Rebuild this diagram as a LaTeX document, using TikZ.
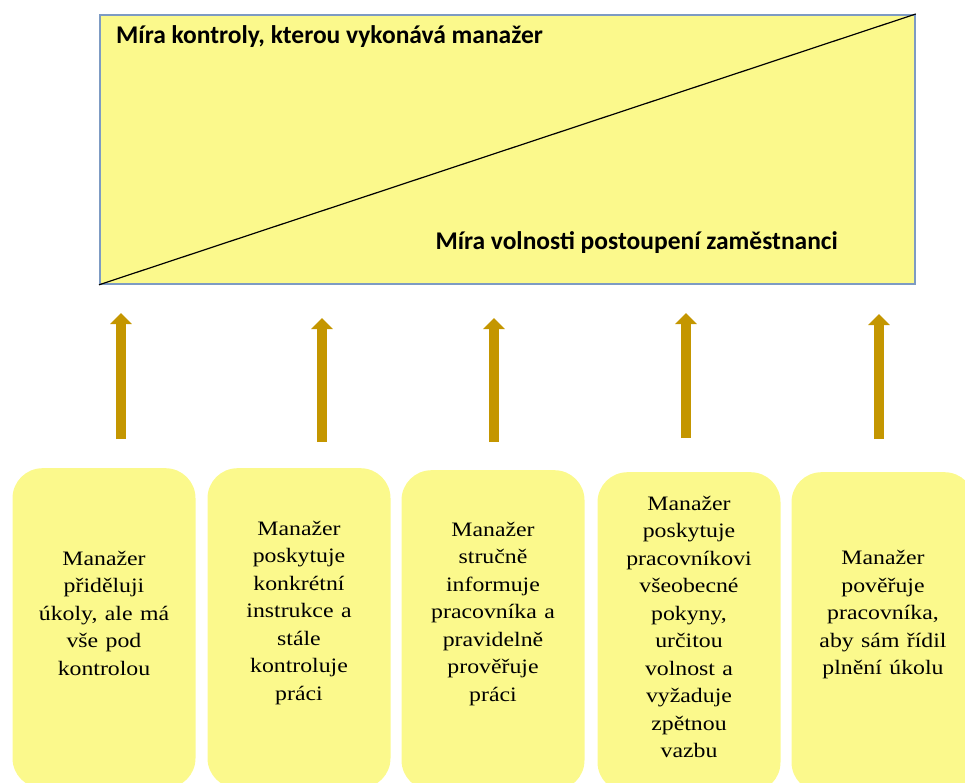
\documentclass[tikz,border=0pt]{standalone}
\usepackage{fontspec}
\setmainfont[FakeStretch=1.16,WordSpace=1.25]{Liberation Serif}
\newfontfamily\headfont{Carlito}
\usetikzlibrary{arrows.meta,positioning}

\definecolor{boxyellow}{RGB}{251,249,140}
\definecolor{frameblue}{RGB}{125,155,195}
\definecolor{arrowgold}{RGB}{196,150,0}

\begin{document}
\begin{tikzpicture}[x=1pt,y=-1pt,
  every node/.style={inner sep=0pt},
  frame/.style={draw=frameblue, line width=1.8pt, fill=boxyellow},
  stepbox/.style={fill=boxyellow, rounded corners=30pt, minimum width=183pt, minimum height=320pt, anchor=north},
  steptext/.style={font=\fontsize{20.5}{27.5}\selectfont, align=center},
  head/.style={font=\headfont\bfseries\fontsize{25.5}{30}\selectfont},
  uparrow/.style={arrowgold, line width=10pt, -{Triangle[width=21pt,length=11pt]}}
]
  \useasboundingbox (0,0) rectangle (965,783);
  \clip (0,0) rectangle (965,783);
  %scale
  \node[frame, minimum width=815pt, minimum height=269pt, anchor=north west] (scale) at (99,14) {};
  \draw[line width=1.2pt] (scale.south west) -- (scale.north east);
  \node[head, anchor=west] (ctrl) at (116,37) {Míra kontroly, kterou vykonává manažer};
  \node[head, anchor=east] (free) at (838,243) {Míra volnosti postoupení zaměstnanci};
  %boxes
  \node[stepbox] (b1) at (104,468) {};
  \node[stepbox] (b2) at (299,468) {};
  \node[stepbox] (b3) at (493,470) {};
  \node[stepbox] (b4) at (689,472) {};
  \node[stepbox] (b5) at (883,472) {};
  \node[steptext] (t1) at (104,613) {Manažer\\přiděluji\\úkoly, ale má\\vše pod\\kontrolou};
  \node[steptext] (t2) at (299,613) {Manažer\\poskytuje\\konkrétní\\instrukce a\\stále\\kontroluje\\práci};
  \node[steptext] (t3) at (493,614) {Manažer\\stručně\\informuje\\pracovníka a\\pravidelně\\prověřuje\\práci};
  \node[steptext] (t4) at (689,627) {Manažer\\poskytuje\\pracovníkovi\\všeobecné\\pokyny,\\určitou\\volnost a\\vyžaduje\\zpětnou\\vazbu};
  \node[steptext] (t5) at (883,615) {Manažer\\pověřuje\\pracovníka,\\aby sám řídil\\plnění úkolu};
  %arrows
  \coordinate (a1s) at (121,439);
  \coordinate (a1e) at (121,313);
  \coordinate (a2s) at (322,442);
  \coordinate (a2e) at (322,318);
  \coordinate (a3s) at (494,442);
  \coordinate (a3e) at (494,318);
  \coordinate (a4s) at (686,438);
  \coordinate (a4e) at (686,313);
  \coordinate (a5s) at (879,439);
  \coordinate (a5e) at (879,314);
  \foreach \i in {1,...,5}
    \draw[uparrow] (a\i s) -- (a\i e);
\end{tikzpicture}
\end{document}
